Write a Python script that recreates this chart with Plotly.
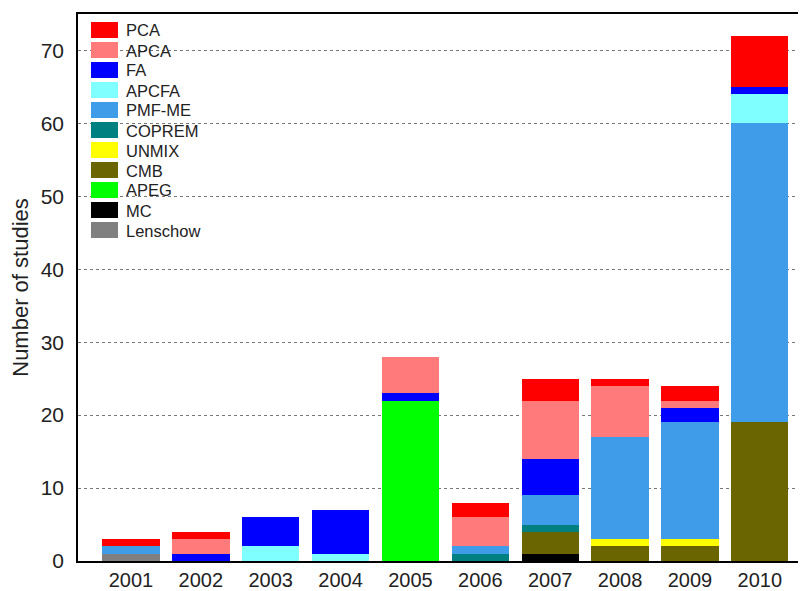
import plotly.graph_objects as go

years = [2001, 2002, 2003, 2004, 2005, 2006, 2007, 2008, 2009, 2010]

# stack order bottom -> top
methods = ["Lenschow", "MC", "APEG", "CMB", "UNMIX", "COPREM", "PMF-ME", "APCFA", "FA", "APCA", "PCA"]

lenschow = [1, 0, 0, 0, 0, 0, 0, 0, 0, 0]
mc       = [0, 0, 0, 0, 0, 0, 1, 0, 0, 0]
apeg     = [0, 0, 0, 0, 22, 0, 0, 0, 0, 0]
cmb      = [0, 0, 0, 0, 0, 0, 3, 2, 2, 19]
unmix    = [0, 0, 0, 0, 0, 0, 0, 1, 1, 0]
coprem   = [0, 0, 0, 0, 0, 1, 1, 0, 0, 0]
pmf_me   = [1, 0, 0, 0, 0, 1, 4, 14, 16, 41]
apcfa    = [0, 0, 2, 1, 0, 0, 0, 0, 0, 4]
fa       = [0, 1, 4, 6, 1, 0, 5, 0, 2, 1]
apca     = [0, 2, 0, 0, 5, 4, 8, 7, 1, 0]
pca      = [1, 1, 0, 0, 0, 2, 3, 1, 2, 7]

series = [lenschow, mc, apeg, cmb, unmix, coprem, pmf_me, apcfa, fa, apca, pca]
colors = ["#808080", "#000000", "#00FF00", "#6B6500", "#FFFF00", "#008080",
          "#3F9CE8", "#7FFFFF", "#0000FF", "#FF7A7A", "#FF0000"]

# the page body adds an 8px offset; margins compensate for it
OFF = 8
W, H = 822, 591
ML, MR, MT, MB = 78 - OFF, OFF, 14 - OFF, H - (561 - OFF)
PW, PH = W - ML - MR, H - MT - MB
# x range: 2001 centred at page x 131, 69.87 px per year
X0 = 2001 + (78 - 131) / 69.87
X1 = 2001 + (OFF + W - MR - 131) / 69.87

fig = go.Figure()
for name, vals, col in zip(methods, series, colors):
    fig.add_trace(go.Bar(x=years, y=vals, name=name, marker_color=col,
                         marker_line_width=0, width=0.82, showlegend=False))

# custom legend (top entry = last stacked series); positions in page pixels
def px_x(p):
    return (p - OFF - ML) / PW

def px_y(p):
    return 1 - (p - OFF - MT) / PH

shapes = []
annotations = []
for i, (name, col) in enumerate(zip(reversed(methods), reversed(colors))):
    top = 22 + 20 * i
    shapes.append(dict(type="rect", xref="paper", yref="paper",
                       x0=px_x(91), x1=px_x(118), y0=px_y(top + 16), y1=px_y(top),
                       fillcolor=col, line=dict(width=0), layer="above"))
    annotations.append(dict(text=name, xref="paper", yref="paper",
                            x=px_x(124), y=px_y(top + 8.5), xanchor="left", yanchor="middle",
                            showarrow=False, font=dict(size=16.5, color="#222222")))

fig.update_layout(
    barmode="stack",
    width=W, height=H,
    margin=dict(l=ML, r=MR, t=MT, b=MB),
    plot_bgcolor="white", paper_bgcolor="white",
    font=dict(family="Liberation Sans, Arial, sans-serif", color="#222222"),
    showlegend=False,
    shapes=shapes,
    annotations=annotations,
)
fig.update_xaxes(range=[X0, X1], tickvals=years, ticktext=[str(y) for y in years],
                 tickfont=dict(size=20), showline=True, linecolor="black", linewidth=1.5,
                 mirror=True, showgrid=False, ticks="", ticklabelstandoff=0, automargin=False)
fig.update_yaxes(range=[0, 75], tickvals=[0, 10, 20, 30, 40, 50, 60, 70],
                 tickfont=dict(size=21), showline=True, linecolor="black", linewidth=1.5,
                 mirror=True, showgrid=True, gridcolor="#777777", griddash="dot", gridwidth=1,
                 zeroline=False, ticks="", ticklabelstandoff=8, automargin=False,
                 title=dict(text="Number of studies", font=dict(size=22), standoff=6))

fig.write_html("out.html")
